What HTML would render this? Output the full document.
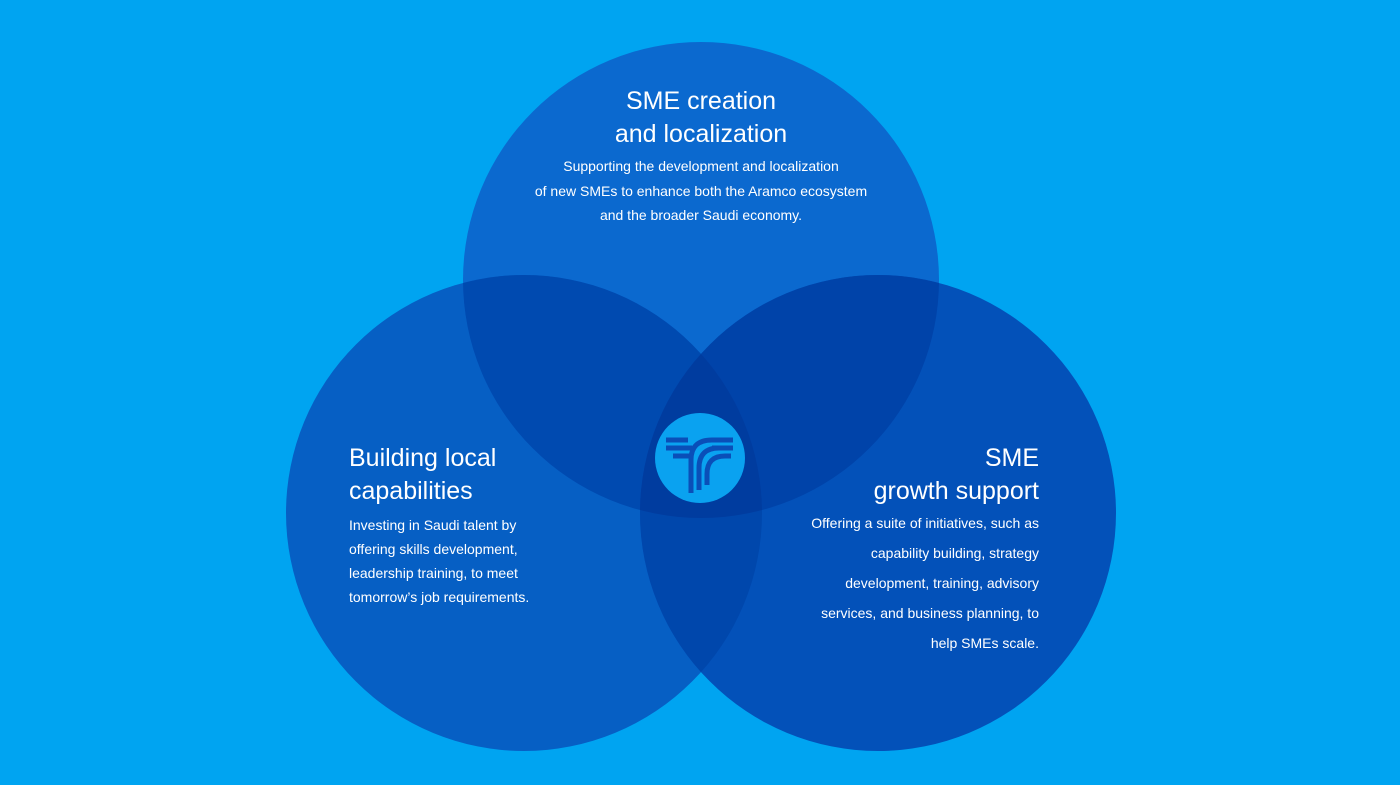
<!DOCTYPE html>
<html><head><meta charset="utf-8"><style>
html,body{margin:0;padding:0;}
body{width:1400px;height:785px;background:#00a4f1;overflow:hidden;position:relative;font-family:"Liberation Sans",sans-serif;color:#fff;}
svg{position:absolute;left:0;top:0;}
.t{position:absolute;font-size:25px;line-height:33px;}
.b{position:absolute;font-size:14px;}
</style></head><body>
<svg width="1400" height="785">
<defs>
<clipPath id="T"><circle cx="701" cy="280" r="238"/></clipPath>
<clipPath id="L"><circle cx="524" cy="513" r="238"/></clipPath>
<clipPath id="R"><circle cx="878" cy="513" r="238"/></clipPath>
</defs>
<circle cx="701" cy="280" r="238" fill="#0b69cf"/>
<circle cx="524" cy="513" r="238" fill="#065fc4"/>
<circle cx="878" cy="513" r="238" fill="#0351b9"/>
<g clip-path="url(#T)"><circle cx="524" cy="513" r="238" fill="#004ab0"/><circle cx="878" cy="513" r="238" fill="#0043a9"/></g>
<g clip-path="url(#L)"><circle cx="878" cy="513" r="238" fill="#0047ac"/></g>
<g clip-path="url(#T)"><g clip-path="url(#L)"><circle cx="878" cy="513" r="238" fill="#003c9f"/></g></g>
<circle cx="700" cy="458" r="45" fill="#0aa2f0"/>
<g fill="none" stroke="#0a4fb8" stroke-width="5">
<path d="M666 440 H688"/><path d="M666 448 H692"/><path d="M673 456 H690"/>
<path d="M733 440 H712"/><path d="M733 448 H712"/>
<path d="M691 493 V460 Q691 440 712 440"/>
<path d="M699 490 V468 Q699 448 719 448 H733"/>
<path d="M707 485 V474 Q707 456 725 456 H731"/>
</g>
</svg>
<div class="t" style="left:501px;width:400px;top:85px;text-align:center;">SME creation<br>and localization</div>
<div class="b" style="left:451px;width:500px;top:154px;text-align:center;line-height:24.5px;">Supporting the development and localization<br>of new SMEs to enhance both the Aramco ecosystem<br>and the broader Saudi economy.</div>
<div class="t" style="left:349px;top:442px;">Building local<br>capabilities</div>
<div class="b" style="left:349px;top:513px;line-height:24px;">Investing in Saudi talent by<br>offering skills development,<br>leadership training, to meet<br>tomorrow’s job requirements.</div>
<div class="t" style="right:361px;top:442px;text-align:right;">SME<br>growth support</div>
<div class="b" style="right:361px;top:508px;text-align:right;line-height:30px;">Offering a suite of initiatives, such as<br>capability building, strategy<br>development, training, advisory<br>services, and business planning, to<br>help SMEs scale.</div>
</body></html>
